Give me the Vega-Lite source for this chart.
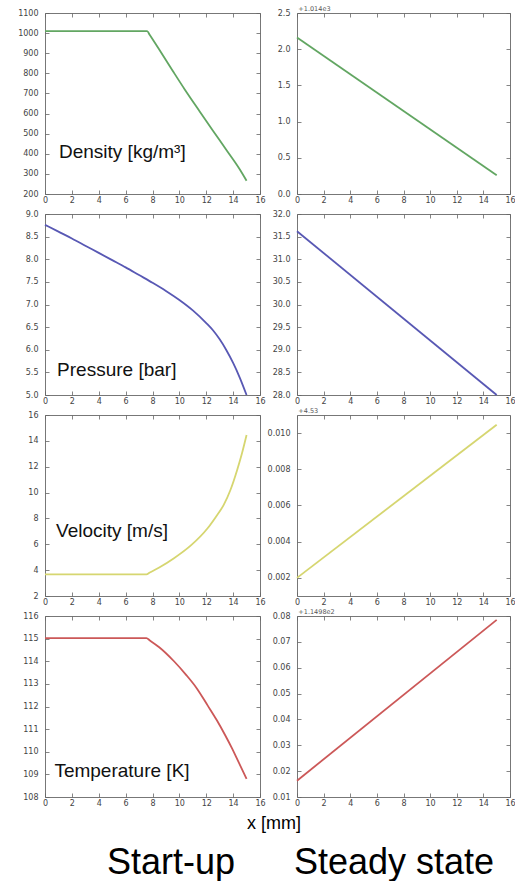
{
  "$schema": "https://vega.github.io/schema/vega-lite/v6.json",
  "padding": {"left": 17, "top": 5, "right": 0, "bottom": 0},
  "background": "white",
  "bounds": "flush",
  "columns": 2,
  "spacing": {"row": 20, "column": 37},
  "config": {
    "view": {"stroke": "#777", "strokeWidth": 1},
    "axis": {"domain": false, "grid": false, "tickSize": -4, "tickColor": "#666", "tickWidth": 0.8, "labelFont": "DejaVu Sans", "labelFontSize": 8, "labelColor": "#444", "labelFlush": false, "labelOverlap": false},
    "axisX": {"labelPadding": 6},
    "axisY": {"labelPadding": 11}
  },
  "datasets": {
    "curves": [
      {"panel": "rho_s", "x": 0, "v": 1010}, {"panel": "rho_s", "x": 7.6, "v": 1010}, {"panel": "rho_s", "x": 7.8, "v": 990}, {"panel": "rho_s", "x": 8.5, "v": 918}, {"panel": "rho_s", "x": 9.5, "v": 813}, {"panel": "rho_s", "x": 10.4, "v": 720}, {"panel": "rho_s", "x": 11.5, "v": 612}, {"panel": "rho_s", "x": 12.5, "v": 515}, {"panel": "rho_s", "x": 13.5, "v": 419}, {"panel": "rho_s", "x": 14.5, "v": 322}, {"panel": "rho_s", "x": 15, "v": 266},
      {"panel": "rho_ss", "x": 0, "v": 2.16}, {"panel": "rho_ss", "x": 15, "v": 0.26},
      {"panel": "p_s", "x": 0, "v": 8.76}, {"panel": "p_s", "x": 1, "v": 8.61}, {"panel": "p_s", "x": 2, "v": 8.46}, {"panel": "p_s", "x": 3, "v": 8.3}, {"panel": "p_s", "x": 4, "v": 8.14}, {"panel": "p_s", "x": 5, "v": 7.98}, {"panel": "p_s", "x": 6, "v": 7.82}, {"panel": "p_s", "x": 7, "v": 7.65}, {"panel": "p_s", "x": 8, "v": 7.48}, {"panel": "p_s", "x": 9, "v": 7.3}, {"panel": "p_s", "x": 10, "v": 7.1}, {"panel": "p_s", "x": 11, "v": 6.87}, {"panel": "p_s", "x": 12, "v": 6.59}, {"panel": "p_s", "x": 12.5, "v": 6.43}, {"panel": "p_s", "x": 13, "v": 6.23}, {"panel": "p_s", "x": 13.5, "v": 5.99}, {"panel": "p_s", "x": 14, "v": 5.71}, {"panel": "p_s", "x": 14.5, "v": 5.38}, {"panel": "p_s", "x": 15, "v": 5.0},
      {"panel": "p_ss", "x": 0, "v": 31.62}, {"panel": "p_ss", "x": 15, "v": 28.0},
      {"panel": "u_s", "x": 0, "v": 3.68}, {"panel": "u_s", "x": 7.55, "v": 3.68}, {"panel": "u_s", "x": 7.8, "v": 3.82}, {"panel": "u_s", "x": 8.5, "v": 4.2}, {"panel": "u_s", "x": 9.6, "v": 4.92}, {"panel": "u_s", "x": 10.9, "v": 5.95}, {"panel": "u_s", "x": 12.1, "v": 7.24}, {"panel": "u_s", "x": 12.7, "v": 8.1}, {"panel": "u_s", "x": 13.3, "v": 9.05}, {"panel": "u_s", "x": 13.8, "v": 10.2}, {"panel": "u_s", "x": 14.3, "v": 11.75}, {"panel": "u_s", "x": 14.65, "v": 13.0}, {"panel": "u_s", "x": 15, "v": 14.45},
      {"panel": "u_ss", "x": 0, "v": 0.002}, {"panel": "u_ss", "x": 15, "v": 0.01046},
      {"panel": "T_s", "x": 0, "v": 115.02}, {"panel": "T_s", "x": 7.55, "v": 115.02}, {"panel": "T_s", "x": 7.8, "v": 114.92}, {"panel": "T_s", "x": 8.5, "v": 114.62}, {"panel": "T_s", "x": 9.6, "v": 114.0}, {"panel": "T_s", "x": 10.5, "v": 113.4}, {"panel": "T_s", "x": 11.3, "v": 112.8}, {"panel": "T_s", "x": 12.1, "v": 112.05}, {"panel": "T_s", "x": 12.8, "v": 111.38}, {"panel": "T_s", "x": 13.4, "v": 110.74}, {"panel": "T_s", "x": 13.9, "v": 110.17}, {"panel": "T_s", "x": 14.4, "v": 109.55}, {"panel": "T_s", "x": 15, "v": 108.8},
      {"panel": "T_ss", "x": 0, "v": 0.0163}, {"panel": "T_ss", "x": 15, "v": 0.0785}
    ],
    "labels": [
      {"panel": "rho_s", "x": 1.04, "v": 378, "text": "Density [kg/m³]"},
      {"panel": "p_s", "x": 0.9, "v": 5.43, "text": "Pressure [bar]"},
      {"panel": "u_s", "x": 0.82, "v": 6.59, "text": "Velocity [m/s]"},
      {"panel": "T_s", "x": 0.7, "v": 108.89, "text": "Temperature [K]"},
      {"panel": "rho_ss", "x": 0.1, "v": 2.5, "text": "+1.014e3"},
      {"panel": "u_ss", "x": 0.1, "v": 0.011, "text": "+4.53"},
      {"panel": "T_ss", "x": 0.1, "v": 0.08, "text": "+1.1498e2"}
    ],
    "captions": [
      {"col": "s", "text": "Start-up"},
      {"col": "ss", "text": "Steady state"}
    ]
  },
  "concat": [
    {
      "width": 215, "height": 181,
      "layer": [
        {"data": {"name": "curves"}, "transform": [{"filter": "datum.panel === 'rho_s'"}],
         "mark": {"type": "line", "color": "#62a662", "strokeWidth": 1.8, "interpolate": "monotone"},
         "encoding": {
           "x": {"field": "x", "type": "quantitative", "scale": {"domain": [0, 16], "nice": false}, "axis": {"values": [0, 2, 4, 6, 8, 10, 12, 14, 16], "format": "d", "title": null}},
           "y": {"field": "v", "type": "quantitative", "scale": {"domain": [200, 1100], "nice": false, "zero": false}, "axis": {"values": [200, 300, 400, 500, 600, 700, 800, 900, 1000, 1100], "format": "d", "title": null}}
         }},
        {"data": {"name": "labels"}, "transform": [{"filter": "datum.panel === 'rho_s'"}],
         "mark": {"type": "text", "align": "left", "baseline": "alphabetic", "font": "Liberation Sans", "fontSize": 19, "color": "#111"},
         "encoding": {
           "x": {"field": "x", "type": "quantitative", "axis": {"orient": "top", "values": [0, 2, 4, 6, 8, 10, 12, 14, 16], "labels": false, "title": null}},
           "y": {"field": "v", "type": "quantitative", "axis": {"orient": "right", "values": [200, 300, 400, 500, 600, 700, 800, 900, 1000, 1100], "labels": false, "title": null}},
           "text": {"field": "text"}
         }}
      ],
      "resolve": {"axis": {"x": "independent", "y": "independent"}}
    },
    {
      "width": 213, "height": 181,
      "layer": [
        {"data": {"name": "curves"}, "transform": [{"filter": "datum.panel === 'rho_ss'"}],
         "mark": {"type": "line", "color": "#62a662", "strokeWidth": 1.8},
         "encoding": {
           "x": {"field": "x", "type": "quantitative", "scale": {"domain": [0, 16], "nice": false}, "axis": {"values": [0, 2, 4, 6, 8, 10, 12, 14, 16], "format": "d", "title": null}},
           "y": {"field": "v", "type": "quantitative", "scale": {"domain": [0, 2.5], "nice": false, "zero": false}, "axis": {"values": [0, 0.5, 1, 1.5, 2, 2.5], "format": ".1f", "title": null}}
         }},
        {"data": {"name": "labels"}, "transform": [{"filter": "datum.panel === 'rho_ss'"}],
         "mark": {"type": "text", "align": "left", "baseline": "bottom", "dy": -1, "font": "DejaVu Sans", "fontSize": 6.5, "color": "#555"},
         "encoding": {
           "x": {"field": "x", "type": "quantitative", "axis": {"orient": "top", "values": [0, 2, 4, 6, 8, 10, 12, 14, 16], "labels": false, "title": null}},
           "y": {"field": "v", "type": "quantitative", "axis": {"orient": "right", "values": [0, 0.5, 1, 1.5, 2, 2.5], "labels": false, "title": null}},
           "text": {"field": "text"}
         }}
      ],
      "resolve": {"axis": {"x": "independent", "y": "independent"}}
    },
    {
      "width": 215, "height": 181,
      "layer": [
        {"data": {"name": "curves"}, "transform": [{"filter": "datum.panel === 'p_s'"}],
         "mark": {"type": "line", "color": "#5858b4", "strokeWidth": 1.8, "interpolate": "monotone"},
         "encoding": {
           "x": {"field": "x", "type": "quantitative", "scale": {"domain": [0, 16], "nice": false}, "axis": {"values": [0, 2, 4, 6, 8, 10, 12, 14, 16], "format": "d", "title": null}},
           "y": {"field": "v", "type": "quantitative", "scale": {"domain": [5, 9], "nice": false, "zero": false}, "axis": {"values": [5, 5.5, 6, 6.5, 7, 7.5, 8, 8.5, 9], "format": ".1f", "title": null}}
         }},
        {"data": {"name": "labels"}, "transform": [{"filter": "datum.panel === 'p_s'"}],
         "mark": {"type": "text", "align": "left", "baseline": "alphabetic", "font": "Liberation Sans", "fontSize": 19, "color": "#111"},
         "encoding": {
           "x": {"field": "x", "type": "quantitative", "axis": {"orient": "top", "values": [0, 2, 4, 6, 8, 10, 12, 14, 16], "labels": false, "title": null}},
           "y": {"field": "v", "type": "quantitative", "axis": {"orient": "right", "values": [5, 5.5, 6, 6.5, 7, 7.5, 8, 8.5, 9], "labels": false, "title": null}},
           "text": {"field": "text"}
         }}
      ],
      "resolve": {"axis": {"x": "independent", "y": "independent"}}
    },
    {
      "width": 213, "height": 181,
      "layer": [
        {"data": {"name": "curves"}, "transform": [{"filter": "datum.panel === 'p_ss'"}],
         "mark": {"type": "line", "color": "#5858b4", "strokeWidth": 1.8},
         "encoding": {
           "x": {"field": "x", "type": "quantitative", "scale": {"domain": [0, 16], "nice": false}, "axis": {"values": [0, 2, 4, 6, 8, 10, 12, 14, 16], "format": "d", "title": null}},
           "y": {"field": "v", "type": "quantitative", "scale": {"domain": [28, 32], "nice": false, "zero": false}, "axis": {"values": [28, 28.5, 29, 29.5, 30, 30.5, 31, 31.5, 32], "format": ".1f", "title": null}}
         }},
        {"data": {"name": "labels"}, "transform": [{"filter": "datum.panel === 'p_ss'"}],
         "mark": {"type": "text", "align": "left", "baseline": "bottom", "dy": -1, "font": "DejaVu Sans", "fontSize": 6.5, "color": "#555"},
         "encoding": {
           "x": {"field": "x", "type": "quantitative", "axis": {"orient": "top", "values": [0, 2, 4, 6, 8, 10, 12, 14, 16], "labels": false, "title": null}},
           "y": {"field": "v", "type": "quantitative", "axis": {"orient": "right", "values": [28, 28.5, 29, 29.5, 30, 30.5, 31, 31.5, 32], "labels": false, "title": null}},
           "text": {"field": "text"}
         }}
      ],
      "resolve": {"axis": {"x": "independent", "y": "independent"}}
    },
    {
      "width": 215, "height": 181,
      "layer": [
        {"data": {"name": "curves"}, "transform": [{"filter": "datum.panel === 'u_s'"}],
         "mark": {"type": "line", "color": "#d6d670", "strokeWidth": 1.8, "interpolate": "monotone"},
         "encoding": {
           "x": {"field": "x", "type": "quantitative", "scale": {"domain": [0, 16], "nice": false}, "axis": {"values": [0, 2, 4, 6, 8, 10, 12, 14, 16], "format": "d", "title": null}},
           "y": {"field": "v", "type": "quantitative", "scale": {"domain": [2, 16], "nice": false, "zero": false}, "axis": {"values": [2, 4, 6, 8, 10, 12, 14, 16], "format": "d", "title": null}}
         }},
        {"data": {"name": "labels"}, "transform": [{"filter": "datum.panel === 'u_s'"}],
         "mark": {"type": "text", "align": "left", "baseline": "alphabetic", "font": "Liberation Sans", "fontSize": 19, "color": "#111"},
         "encoding": {
           "x": {"field": "x", "type": "quantitative", "axis": {"orient": "top", "values": [0, 2, 4, 6, 8, 10, 12, 14, 16], "labels": false, "title": null}},
           "y": {"field": "v", "type": "quantitative", "axis": {"orient": "right", "values": [2, 4, 6, 8, 10, 12, 14, 16], "labels": false, "title": null}},
           "text": {"field": "text"}
         }}
      ],
      "resolve": {"axis": {"x": "independent", "y": "independent"}}
    },
    {
      "width": 213, "height": 181,
      "layer": [
        {"data": {"name": "curves"}, "transform": [{"filter": "datum.panel === 'u_ss'"}],
         "mark": {"type": "line", "color": "#d6d670", "strokeWidth": 1.8},
         "encoding": {
           "x": {"field": "x", "type": "quantitative", "scale": {"domain": [0, 16], "nice": false}, "axis": {"values": [0, 2, 4, 6, 8, 10, 12, 14, 16], "format": "d", "title": null}},
           "y": {"field": "v", "type": "quantitative", "scale": {"domain": [0.001, 0.011], "nice": false, "zero": false}, "axis": {"values": [0.002, 0.004, 0.006, 0.008, 0.010], "format": ".3f", "title": null}}
         }},
        {"data": {"name": "labels"}, "transform": [{"filter": "datum.panel === 'u_ss'"}],
         "mark": {"type": "text", "align": "left", "baseline": "bottom", "dy": -1, "font": "DejaVu Sans", "fontSize": 6.5, "color": "#555"},
         "encoding": {
           "x": {"field": "x", "type": "quantitative", "axis": {"orient": "top", "values": [0, 2, 4, 6, 8, 10, 12, 14, 16], "labels": false, "title": null}},
           "y": {"field": "v", "type": "quantitative", "axis": {"orient": "right", "values": [0.002, 0.004, 0.006, 0.008, 0.010], "labels": false, "title": null}},
           "text": {"field": "text"}
         }}
      ],
      "resolve": {"axis": {"x": "independent", "y": "independent"}}
    },
    {
      "width": 215, "height": 181,
      "layer": [
        {"data": {"name": "curves"}, "transform": [{"filter": "datum.panel === 'T_s'"}],
         "mark": {"type": "line", "color": "#cc5858", "strokeWidth": 1.8, "interpolate": "monotone"},
         "encoding": {
           "x": {"field": "x", "type": "quantitative", "scale": {"domain": [0, 16], "nice": false}, "axis": {"values": [0, 2, 4, 6, 8, 10, 12, 14, 16], "format": "d", "title": "x [mm]", "titleFont": "Liberation Sans", "titleFontSize": 18, "titleFontWeight": "normal", "titleColor": "#000", "titleX": 228.5, "titleY": 17, "titleBaseline": "top", "titleAlign": "center"}},
           "y": {"field": "v", "type": "quantitative", "scale": {"domain": [108, 116], "nice": false, "zero": false}, "axis": {"values": [108, 109, 110, 111, 112, 113, 114, 115, 116], "format": "d", "title": null}}
         }},
        {"data": {"name": "labels"}, "transform": [{"filter": "datum.panel === 'T_s'"}],
         "mark": {"type": "text", "align": "left", "baseline": "alphabetic", "font": "Liberation Sans", "fontSize": 19, "color": "#111"},
         "encoding": {
           "x": {"field": "x", "type": "quantitative", "axis": {"orient": "top", "values": [0, 2, 4, 6, 8, 10, 12, 14, 16], "labels": false, "title": null}},
           "y": {"field": "v", "type": "quantitative", "axis": {"orient": "right", "values": [108, 109, 110, 111, 112, 113, 114, 115, 116], "labels": false, "title": null}},
           "text": {"field": "text"}
         }}
      ],
      "resolve": {"axis": {"x": "independent", "y": "independent"}}
    },
    {
      "width": 213, "height": 181,
      "layer": [
        {"data": {"name": "curves"}, "transform": [{"filter": "datum.panel === 'T_ss'"}],
         "mark": {"type": "line", "color": "#cc5858", "strokeWidth": 1.8},
         "encoding": {
           "x": {"field": "x", "type": "quantitative", "scale": {"domain": [0, 16], "nice": false}, "axis": {"values": [0, 2, 4, 6, 8, 10, 12, 14, 16], "format": "d", "title": null}},
           "y": {"field": "v", "type": "quantitative", "scale": {"domain": [0.01, 0.08], "nice": false, "zero": false}, "axis": {"values": [0.01, 0.02, 0.03, 0.04, 0.05, 0.06, 0.07, 0.08], "format": ".2f", "title": null}}
         }},
        {"data": {"name": "labels"}, "transform": [{"filter": "datum.panel === 'T_ss'"}],
         "mark": {"type": "text", "align": "left", "baseline": "bottom", "dy": -1, "font": "DejaVu Sans", "fontSize": 6.5, "color": "#555"},
         "encoding": {
           "x": {"field": "x", "type": "quantitative", "axis": {"orient": "top", "values": [0, 2, 4, 6, 8, 10, 12, 14, 16], "labels": false, "title": null}},
           "y": {"field": "v", "type": "quantitative", "axis": {"orient": "right", "values": [0.01, 0.02, 0.03, 0.04, 0.05, 0.06, 0.07, 0.08], "labels": false, "title": null}},
           "text": {"field": "text"}
         }}
      ],
      "resolve": {"axis": {"x": "independent", "y": "independent"}}
    },
    {
      "width": 215, "height": 40, "view": {"stroke": null},
      "data": {"name": "captions"}, "transform": [{"filter": "datum.col === 's'"}],
      "mark": {"type": "text", "font": "Liberation Sans", "fontSize": 36, "color": "#000", "baseline": "alphabetic", "dx": 18.5, "dy": 37},
      "encoding": {"text": {"field": "text"}}
    },
    {
      "width": 213, "height": 40, "view": {"stroke": null},
      "data": {"name": "captions"}, "transform": [{"filter": "datum.col === 'ss'"}],
      "mark": {"type": "text", "font": "Liberation Sans", "fontSize": 36, "color": "#000", "baseline": "alphabetic", "dx": -9.5, "dy": 37},
      "encoding": {"text": {"field": "text"}}
    }
  ]
}
